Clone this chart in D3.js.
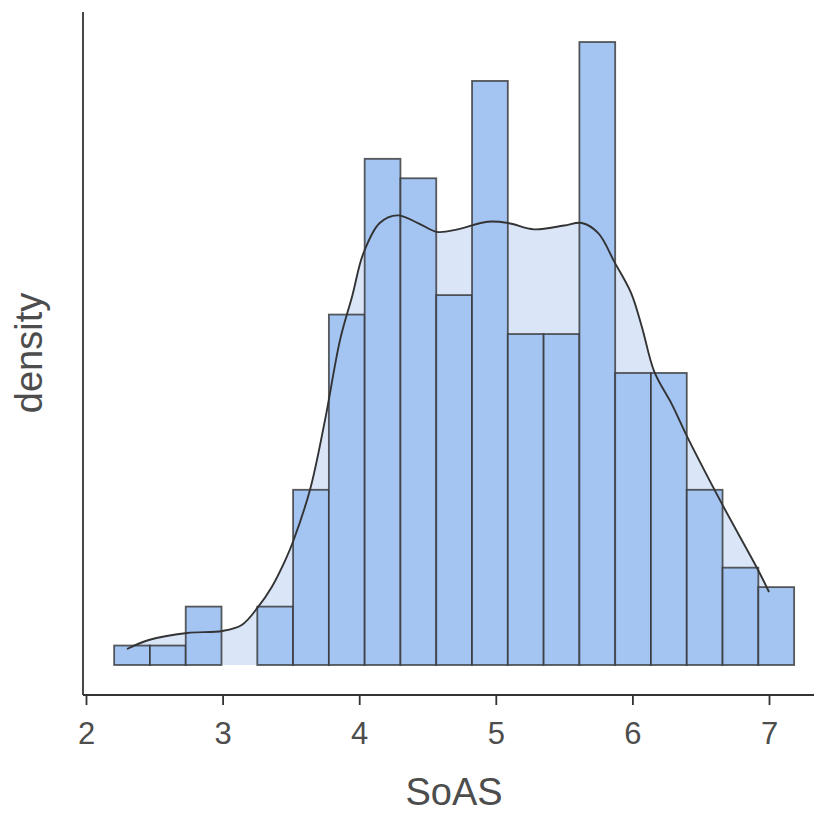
<!DOCTYPE html>
<html>
<head>
<meta charset="utf-8">
<script src="https://cdn.jsdelivr.net/npm/d3@7"></script>
<style>
  body { margin: 0; background: #fff; }
  text { font-family: "Liberation Sans", Arial, sans-serif; }
</style>
</head>
<body>
<svg id="chart" width="814" height="815"></svg>
<script>
// histogram bins (SoAS), counts
const binStart = 2.206
const binWidth = 0.262
const counts = [1, 1, 3, 0, 3, 9, 18, 26, 25, 19, 30, 17, 17, 32, 15, 15, 9, 5, 4]

// kernel density estimate
const densX = [2.30, 2.46, 2.74, 3.00, 3.14, 3.26, 3.36, 3.46, 3.52, 3.64, 3.75, 3.86, 3.95, 4.03,
    4.15, 4.28, 4.43, 4.57, 4.72, 4.94, 5.09, 5.28, 5.50, 5.63, 5.75, 5.87, 5.99, 6.07, 6.16,
    6.29, 6.40, 6.65, 6.92, 7.00]
const densY = [0.0126, 0.0197, 0.0252, 0.0268, 0.0315, 0.0457, 0.0614, 0.0827, 0.0984, 0.138,
    0.193, 0.256, 0.291, 0.324, 0.348, 0.354, 0.348, 0.341, 0.343, 0.349, 0.348, 0.343, 0.346,
    0.348, 0.340, 0.317, 0.293, 0.266, 0.231, 0.205, 0.180, 0.128, 0.0748, 0.0575]

const xTicks = [2, 3, 4, 5, 6, 7]

let svg = d3.select("#chart")
let n = d3.sum(counts)

let bins = counts.map(function (c, i) {
    return { x0: binStart + i * binWidth, x1: binStart + (i + 1) * binWidth, d: c / (n * binWidth) }
})
let dens = densX.map((x, i) => ({ x: x, y: densY[i] }))

let maxD = d3.max(bins, d => d.d)

let x = d3.scaleLinear()
    .domain([2, 7])
    .range([86, 769])

let y = d3.scaleLinear()
    .domain([0, maxD])
    .range([665, 42])

// density area behind bars
let area = d3.area()
    .x(d => x(d.x))
    .y0(y(0))
    .y1(d => y(d.y))
    .curve(d3.curveCatmullRom)

svg.append("path")
    .datum(dens)
    .attr("d", area)
    .style("fill", "#dae6f8")

svg.append("g")
    .selectAll("rect")
    .data(bins)
    .join("rect")
    .attr("x", d => x(d.x0))
    .attr("width", d => x(d.x1) - x(d.x0))
    .attr("y", d => y(d.d))
    .attr("height", d => y(0) - y(d.d))
    .style("fill", "#a4c4f2")
    .style("stroke", "#333")
    .style("stroke-opacity", 0.8)
    .style("stroke-width", 1.8)

let line = d3.line()
    .x(d => x(d.x))
    .y(d => y(d.y))
    .curve(d3.curveCatmullRom)

svg.append("path")
    .datum(dens)
    .attr("d", line)
    .style("fill", "none")
    .style("stroke", "#333")
    .style("stroke-width", 1.9)

// axes
let xAxis = svg.append("g")
    .attr("transform", "translate(0,695)")
    .call(d3.axisBottom(x).tickValues(xTicks).tickFormat(d3.format("d"))
        .tickSize(10).tickPadding(17).tickSizeOuter(0))
xAxis.select(".domain").attr("d", "M83,0H814").style("stroke", "#333").style("stroke-width", 1.8)
xAxis.selectAll(".tick line").style("stroke", "#333").style("stroke-width", 1.8)
xAxis.selectAll(".tick text")
    .style("font-size", "31px")
    .style("font-family", "'Liberation Sans', Arial, sans-serif")
    .style("fill", "#4d4d4d")

svg.append("line")
    .attr("x1", 83).attr("x2", 83)
    .attr("y1", 12).attr("y2", 695)
    .style("stroke", "#333")
    .style("stroke-width", 1.8)

svg.append("text")
    .attr("x", 454)
    .attr("y", 805)
    .attr("text-anchor", "middle")
    .style("font-size", "38px")
    .style("fill", "#4d4d4d")
    .text("SoAS")

svg.append("text")
    .attr("transform", "translate(42,353) rotate(-90)")
    .attr("text-anchor", "middle")
    .style("font-size", "38px")
    .style("fill", "#4d4d4d")
    .text("density")
</script>
</body>
</html>
